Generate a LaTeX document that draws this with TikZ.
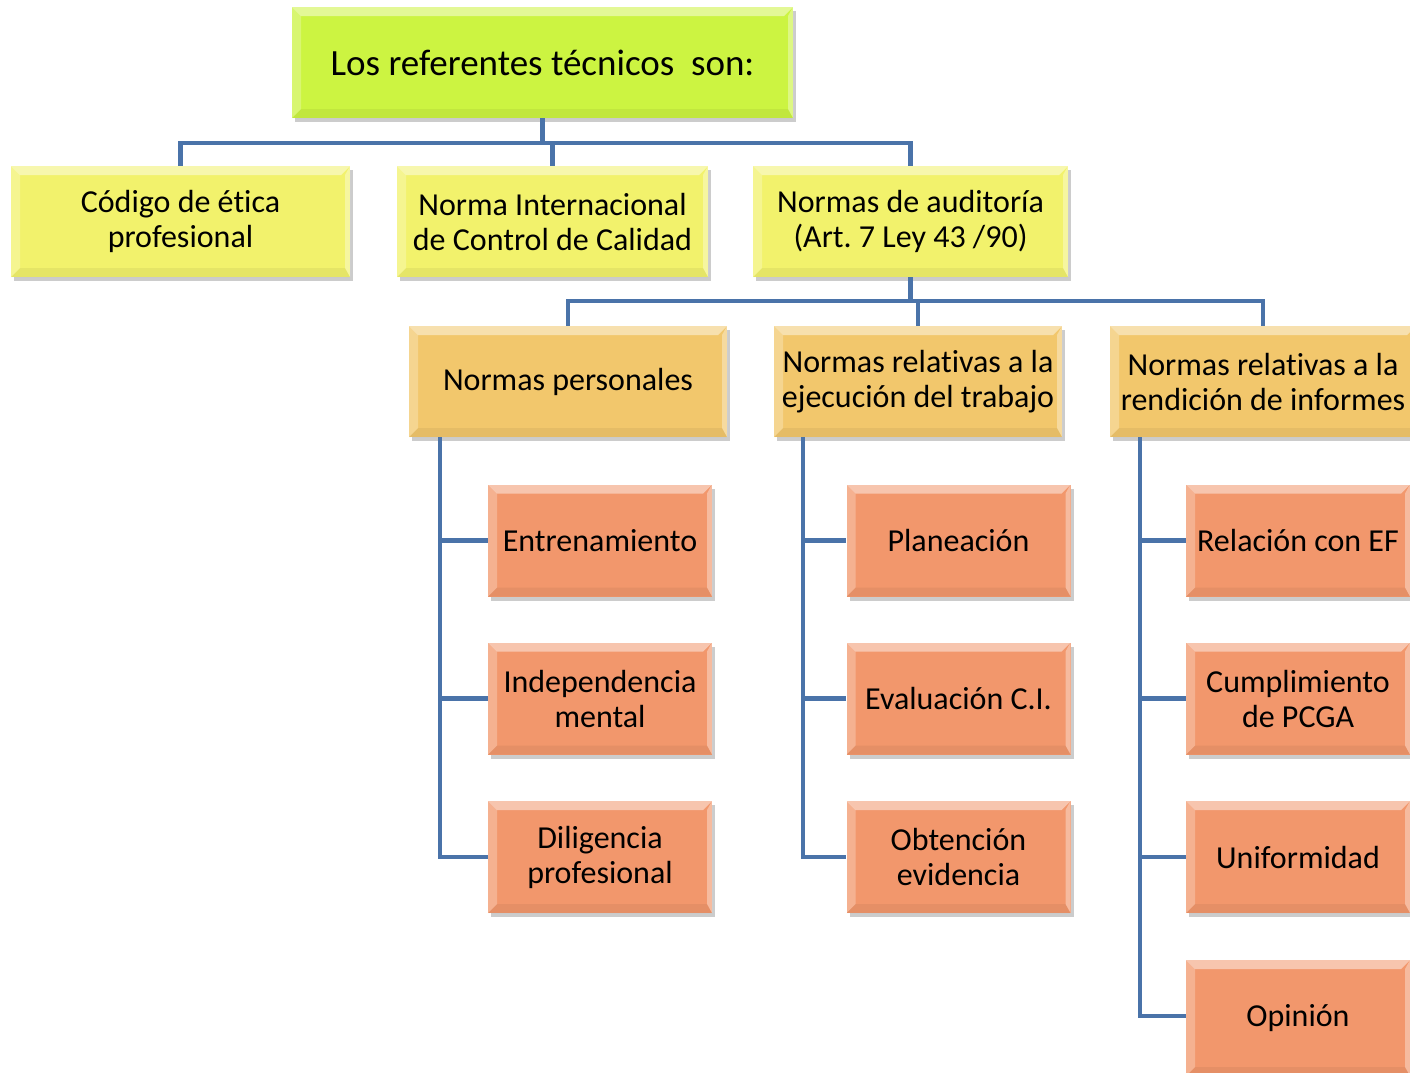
\documentclass[tikz,border=0pt]{standalone}
\usepackage{fontspec}
\setmainfont{Carlito}[Ligatures=NoCommon]
\usetikzlibrary{shadows}
\frenchspacing
\definecolor{lineblue}{HTML}{4A73A9}
\definecolor{limec}{HTML}{CCF441}
\definecolor{yelc}{HTML}{F2F26C}
\definecolor{goldc}{HTML}{F2C76C}
\definecolor{salc}{HTML}{F2976C}
\tikzset{
  bevel/.style={path picture={
    \coordinate (bnw) at (path picture bounding box.north west);
    \coordinate (bne) at (path picture bounding box.north east);
    \coordinate (bsw) at (path picture bounding box.south west);
    \coordinate (bse) at (path picture bounding box.south east);
    \fill[white,opacity=.45] (bnw) -- (bne) -- ([xshift=-9pt,yshift=-9pt]bne) -- ([xshift=9pt,yshift=-9pt]bnw) -- cycle;
    \fill[white,opacity=.25] (bnw) -- ([xshift=9pt,yshift=-9pt]bnw) -- ([xshift=9pt,yshift=9pt]bsw) -- (bsw) -- cycle;
    \fill[white,opacity=.35] (bne) -- (bse) -- ([xshift=-5pt,yshift=9pt]bse) -- ([xshift=-5pt,yshift=-9pt]bne) -- cycle;
    \fill[black,opacity=.05] (bsw) -- (bse) -- ([xshift=-5pt,yshift=9pt]bse) -- ([xshift=9pt,yshift=9pt]bsw) -- cycle;
  }},
  box/.style={rectangle, inner sep=0pt, align=center, bevel,
    drop shadow={shadow xshift=3pt, shadow yshift=-4pt, opacity=.2, fill=black},
    font=\fontsize{32}{35}\selectfont},
  titlebox/.style={box, fill=limec, minimum width=501pt, minimum height=111pt, font=\fontsize{37}{40}\selectfont},
  lvtwo/.style={box, fill=yelc, minimum height=111pt},
  lvthree/.style={box, fill=goldc, minimum height=111pt},
  leafbox/.style={box, fill=salc, minimum width=224pt, minimum height=112pt},
  conn/.style={draw=lineblue, line width=4.5pt}
}
\begin{document}
\begin{tikzpicture}[x=1pt,y=-1pt]
\useasboundingbox (0,0) rectangle (1410,1072);
\clip (0,0) rectangle (1410,1072);
\fill[white] (0,0) rectangle (1410,1072);

\coordinate (bar1) at (0,143);
\coordinate (bar2) at (0,301);

% nodes
\node[titlebox] (T) at (542.5,62.5) {Los referentes técnicos~ son:};
\node[lvtwo, minimum width=339pt] (A) at (180.5,221.5) {Código de ética\\profesional};
\node[lvtwo, minimum width=311pt] (B) at (552.5,221.5) {Norma Internacional\\de Control de Calidad};
\node[lvtwo, minimum width=315pt] (C) at (910.5,221.5) {Normas de auditoría\\(Art. 7 Ley 43 /90)};

\node[lvthree, minimum width=318pt] (P) at (568,381.5) {Normas personales};
\node[lvthree, minimum width=288pt] (E) at (918,381.5) {Normas relativas a la\\ejecución del trabajo};
\node[lvthree, minimum width=306pt] (R) at (1263,381.5) {Normas relativas a la\\rendición de informes};

\node[leafbox] (P1) at (600,540.5) {Entrenamiento};
\node[leafbox] (P2) at (600,698.5) {Independencia\\mental};
\node[leafbox] (P3) at (600,857) {Diligencia\\profesional};

\node[leafbox] (E1) at (958.5,540.5) {Planeación};
\node[leafbox] (E2) at (958.5,698.5) {Evaluación C.I.};
\node[leafbox] (E3) at (958.5,857) {Obtención\\evidencia};

\node[leafbox] (R1) at (1298,540.5) {Relación con EF};
\node[leafbox] (R2) at (1298,698.5) {Cumplimiento\\de PCGA};
\node[leafbox] (R3) at (1298,857) {Uniformidad};
\node[leafbox, minimum height=116pt] (R4) at (1298,1018) {Opinión};

% level 1 -> level 2
\draw[conn] (T.south) -- (T.south |- bar1);
\draw[conn] (A.north) -- (A.north |- bar1) -- (C.north |- bar1) -- (C.north);
\draw[conn] (B.north) -- (B.north |- bar1);

% level 2 -> level 3
\draw[conn] (C.south) -- (C.south |- bar2);
\draw[conn] (P.north) -- (P.north |- bar2) -- (R.north |- bar2) -- (R.north);
\draw[conn] (E.north) -- (E.north |- bar2);

% level 3 -> leaves
\coordinate (pv) at ([xshift=31pt]P.south west);
\coordinate (ev) at ([xshift=29pt]E.south west);
\coordinate (rv) at ([xshift=30pt]R.south west);
\draw[conn] (pv) |- (P3.west);
\draw[conn] (pv |- P1.west) -- (P1.west);
\draw[conn] (pv |- P2.west) -- (P2.west);
\draw[conn] (ev) |- (E3.west);
\draw[conn] (ev |- E1.west) -- (E1.west);
\draw[conn] (ev |- E2.west) -- (E2.west);
\draw[conn] (rv) |- ([yshift=2pt]R4.west);
\draw[conn] (rv |- R1.west) -- (R1.west);
\draw[conn] (rv |- R2.west) -- (R2.west);
\draw[conn] (rv |- R3.west) -- (R3.west);
\end{tikzpicture}
\end{document}
